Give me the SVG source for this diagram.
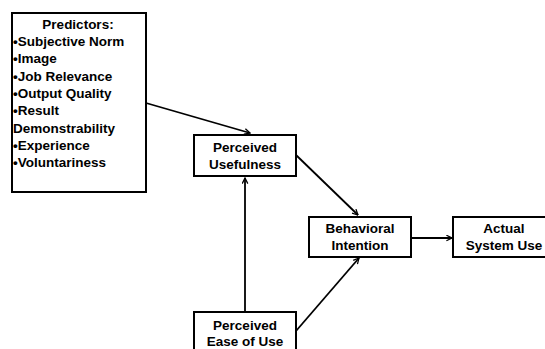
<svg xmlns="http://www.w3.org/2000/svg" width="545" height="349" viewBox="0 0 545 349">
<defs>
<style>
.box{fill:#fff;stroke:#000;stroke-width:2}
.t{font-family:"Liberation Sans",Arial,sans-serif;font-weight:bold;font-size:13.5px;fill:#000}
.c{text-anchor:middle}
.ln{stroke:#000;stroke-width:1.8;fill:none;marker-end:url(#ah)}
</style>
<marker id="ah" viewBox="0 0 10 10" refX="9" refY="5" markerWidth="7" markerHeight="7" markerUnits="userSpaceOnUse" orient="auto">
<path d="M1,1 L9,5 L1,9" fill="none" stroke="#000" stroke-width="1.8"/>
</marker>
</defs>
<rect width="545" height="349" fill="#fff"/>
<g id="connectors">
<line class="ln" x1="146" y1="103" x2="250" y2="133"/>
<line class="ln" x1="296" y1="155" x2="358" y2="215"/>
<line class="ln" x1="245" y1="312" x2="245" y2="178"/>
<line class="ln" x1="296" y1="331" x2="359" y2="258"/>
<line class="ln" x1="411" y1="238" x2="452" y2="238"/>
</g>
<g id="predictors">
<rect class="box" x="12" y="13" width="134" height="179"/>
<text class="t c" x="78" y="28.5">Predictors:</text>
<text class="t" x="13" y="46">•Subjective Norm</text>
<text class="t" x="13" y="63.3">•Image</text>
<text class="t" x="13" y="80.7">•Job Relevance</text>
<text class="t" x="13" y="98">•Output Quality</text>
<text class="t" x="13" y="115.3">•Result</text>
<text class="t" x="13" y="132.7">Demonstrability</text>
<text class="t" x="13" y="150">•Experience</text>
<text class="t" x="13" y="167.3">•Voluntariness</text>
</g>
<g id="perceived-usefulness">
<rect class="box" x="194" y="135" width="102" height="41"/>
<text class="t c" x="245" y="152">Perceived</text>
<text class="t c" x="245" y="168.5">Usefulness</text>
</g>
<g id="behavioral-intention">
<rect class="box" x="309" y="217" width="102" height="40"/>
<text class="t c" x="360" y="233.3">Behavioral</text>
<text class="t c" x="360" y="249.5">Intention</text>
</g>
<g id="actual-system-use">
<rect class="box" x="453" y="217" width="102" height="40"/>
<text class="t c" x="504" y="233.3">Actual</text>
<text class="t c" x="504" y="250">System Use</text>
</g>
<g id="perceived-ease-of-use">
<rect class="box" x="194" y="312" width="102" height="42"/>
<text class="t c" x="245" y="330">Perceived</text>
<text class="t c" x="245" y="346">Ease of Use</text>
</g>
</svg>
